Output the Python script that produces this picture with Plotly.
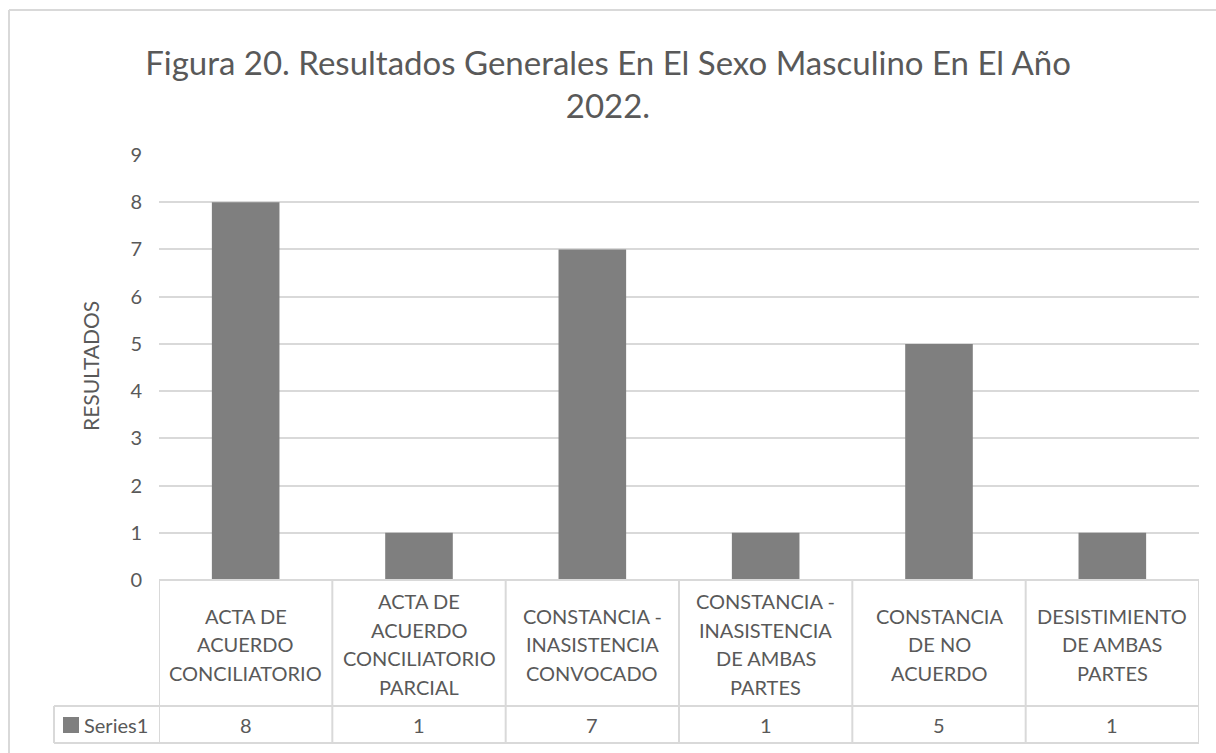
import plotly.graph_objects as go

categories = [
    "ACTA DE<br>ACUERDO<br>CONCILIATORIO",
    "ACTA DE<br>ACUERDO<br>CONCILIATORIO<br>PARCIAL",
    "CONSTANCIA -<br>INASISTENCIA<br>CONVOCADO",
    "CONSTANCIA -<br>INASISTENCIA<br>DE AMBAS<br>PARTES",
    "CONSTANCIA<br>DE NO<br>ACUERDO",
    "DESISTIMIENTO<br>DE AMBAS<br>PARTES",
]
series_name = "Series1"
values = [8, 1, 7, 1, 5, 1]
y_ticks = list(range(0, 10))

W, H = 1216, 753
L, R, T, B = 159, 1199, 155, 580
pw, ph = R - L, B - T

def px_x(x):
    return (x - L) / pw

def px_y(y):
    return (B - y) / ph

FONT = "Lato"
TXT = "#595959"
GRID = "#d9d9d9"
BAR = "#7f7f7f"
FS = 20

idx = list(range(len(categories)))

fig = go.Figure()
fig.add_trace(go.Bar(x=idx, y=values, marker=dict(color=BAR, line=dict(width=0)),
                     name=series_name, showlegend=False, hoverinfo="y"))

shapes = []
annotations = []

row_top = 580
row_sep = 706
row_bot = 743
leg_left = 54
line_h = 28.5

for i in range(len(categories) + 1):
    shapes.append(dict(type="line", xref="x", yref="paper", x0=i - 0.5, x1=i - 0.5,
                       y0=0, y1=px_y(row_bot), line=dict(color=GRID, width=2)))
shapes.append(dict(type="line", xref="x", yref="paper", x0=-0.5, x1=len(categories) - 0.5,
                   y0=0, y1=0, line=dict(color=GRID, width=2)))
shapes.append(dict(type="line", xref="paper", yref="paper", x0=px_x(leg_left), x1=px_x(leg_left),
                   y0=px_y(row_sep), y1=px_y(row_bot), line=dict(color=GRID, width=2)))
shapes.append(dict(type="line", xref="paper", yref="paper", x0=px_x(leg_left), x1=1,
                   y0=px_y(row_sep), y1=px_y(row_sep), line=dict(color=GRID, width=2)))
shapes.append(dict(type="line", xref="paper", yref="paper", x0=px_x(leg_left), x1=1,
                   y0=px_y(row_bot), y1=px_y(row_bot), line=dict(color=GRID, width=2)))
shapes.append(dict(type="rect", xref="paper", yref="paper", x0=px_x(63), x1=px_x(79),
                   y0=px_y(733), y1=px_y(717), fillcolor=BAR, line=dict(width=0)))
# outer chart border (top and left edges only are visible)
shapes.append(dict(type="line", xref="paper", yref="paper", x0=px_x(9), x1=px_x(1216),
                   y0=px_y(10), y1=px_y(10), line=dict(color=GRID, width=2)))
shapes.append(dict(type="line", xref="paper", yref="paper", x0=px_x(9), x1=px_x(9),
                   y0=px_y(10), y1=px_y(753), line=dict(color=GRID, width=2)))

cell_mid = (row_top + row_sep) / 2 + 1
for i, (c, v) in enumerate(zip(categories, values)):
    lines = c.split("<br>")
    n = len(lines)
    for k, ln in enumerate(lines):
        yc = cell_mid + (k - (n - 1) / 2) * line_h
        annotations.append(dict(x=i, y=px_y(yc), xref="x", yref="paper", text=ln,
                                showarrow=False, xanchor="center", yanchor="middle",
                                font=dict(family=FONT, size=FS, color=TXT)))
    annotations.append(dict(x=i, y=px_y((row_sep + row_bot) / 2), xref="x", yref="paper", text=str(v),
                            showarrow=False, xanchor="center", yanchor="middle",
                            font=dict(family=FONT, size=FS, color=TXT)))

annotations.append(dict(x=px_x(82), y=px_y((row_sep + row_bot) / 2), xref="paper", yref="paper",
                        text=series_name, showarrow=False, xanchor="left", yanchor="middle",
                        font=dict(family=FONT, size=FS, color=TXT)))
annotations.append(dict(x=px_x(90), y=px_y(366), xref="paper", yref="paper", text="RESULTADOS",
                        textangle=-90, showarrow=False, xanchor="center", yanchor="middle",
                        font=dict(family=FONT, size=21, color=TXT)))

fig.update_layout(
    width=W, height=H,
    margin=dict(l=L, r=W - R, t=T, b=H - B),
    paper_bgcolor="white", plot_bgcolor="white",
    title=dict(text="Figura 20. Resultados Generales En El Sexo Masculino En El Año<br>2022.",
               x=608 / W, xanchor="center", xref="container",
               y=1 - 75 / H, yanchor="middle",
               yref="container", font=dict(family=FONT, size=33, color=TXT)),
    bargap=0.61,
    xaxis=dict(range=[-0.5, len(categories) - 0.5], showticklabels=False, showgrid=False,
               zeroline=False, showline=False, ticks=""),
    yaxis=dict(range=[0, 9], tickvals=y_ticks, showgrid=True, gridcolor=GRID, gridwidth=2,
               zeroline=False, showline=False, ticks="", ticklabelstandoff=16,
               tickfont=dict(family=FONT, size=FS, color=TXT)),
    shapes=shapes, annotations=annotations, showlegend=False,
)

fig.write_html("out.html", config={"displayModeBar": False},
               post_script="document.body.style.margin='0';document.body.style.overflow='hidden';")
